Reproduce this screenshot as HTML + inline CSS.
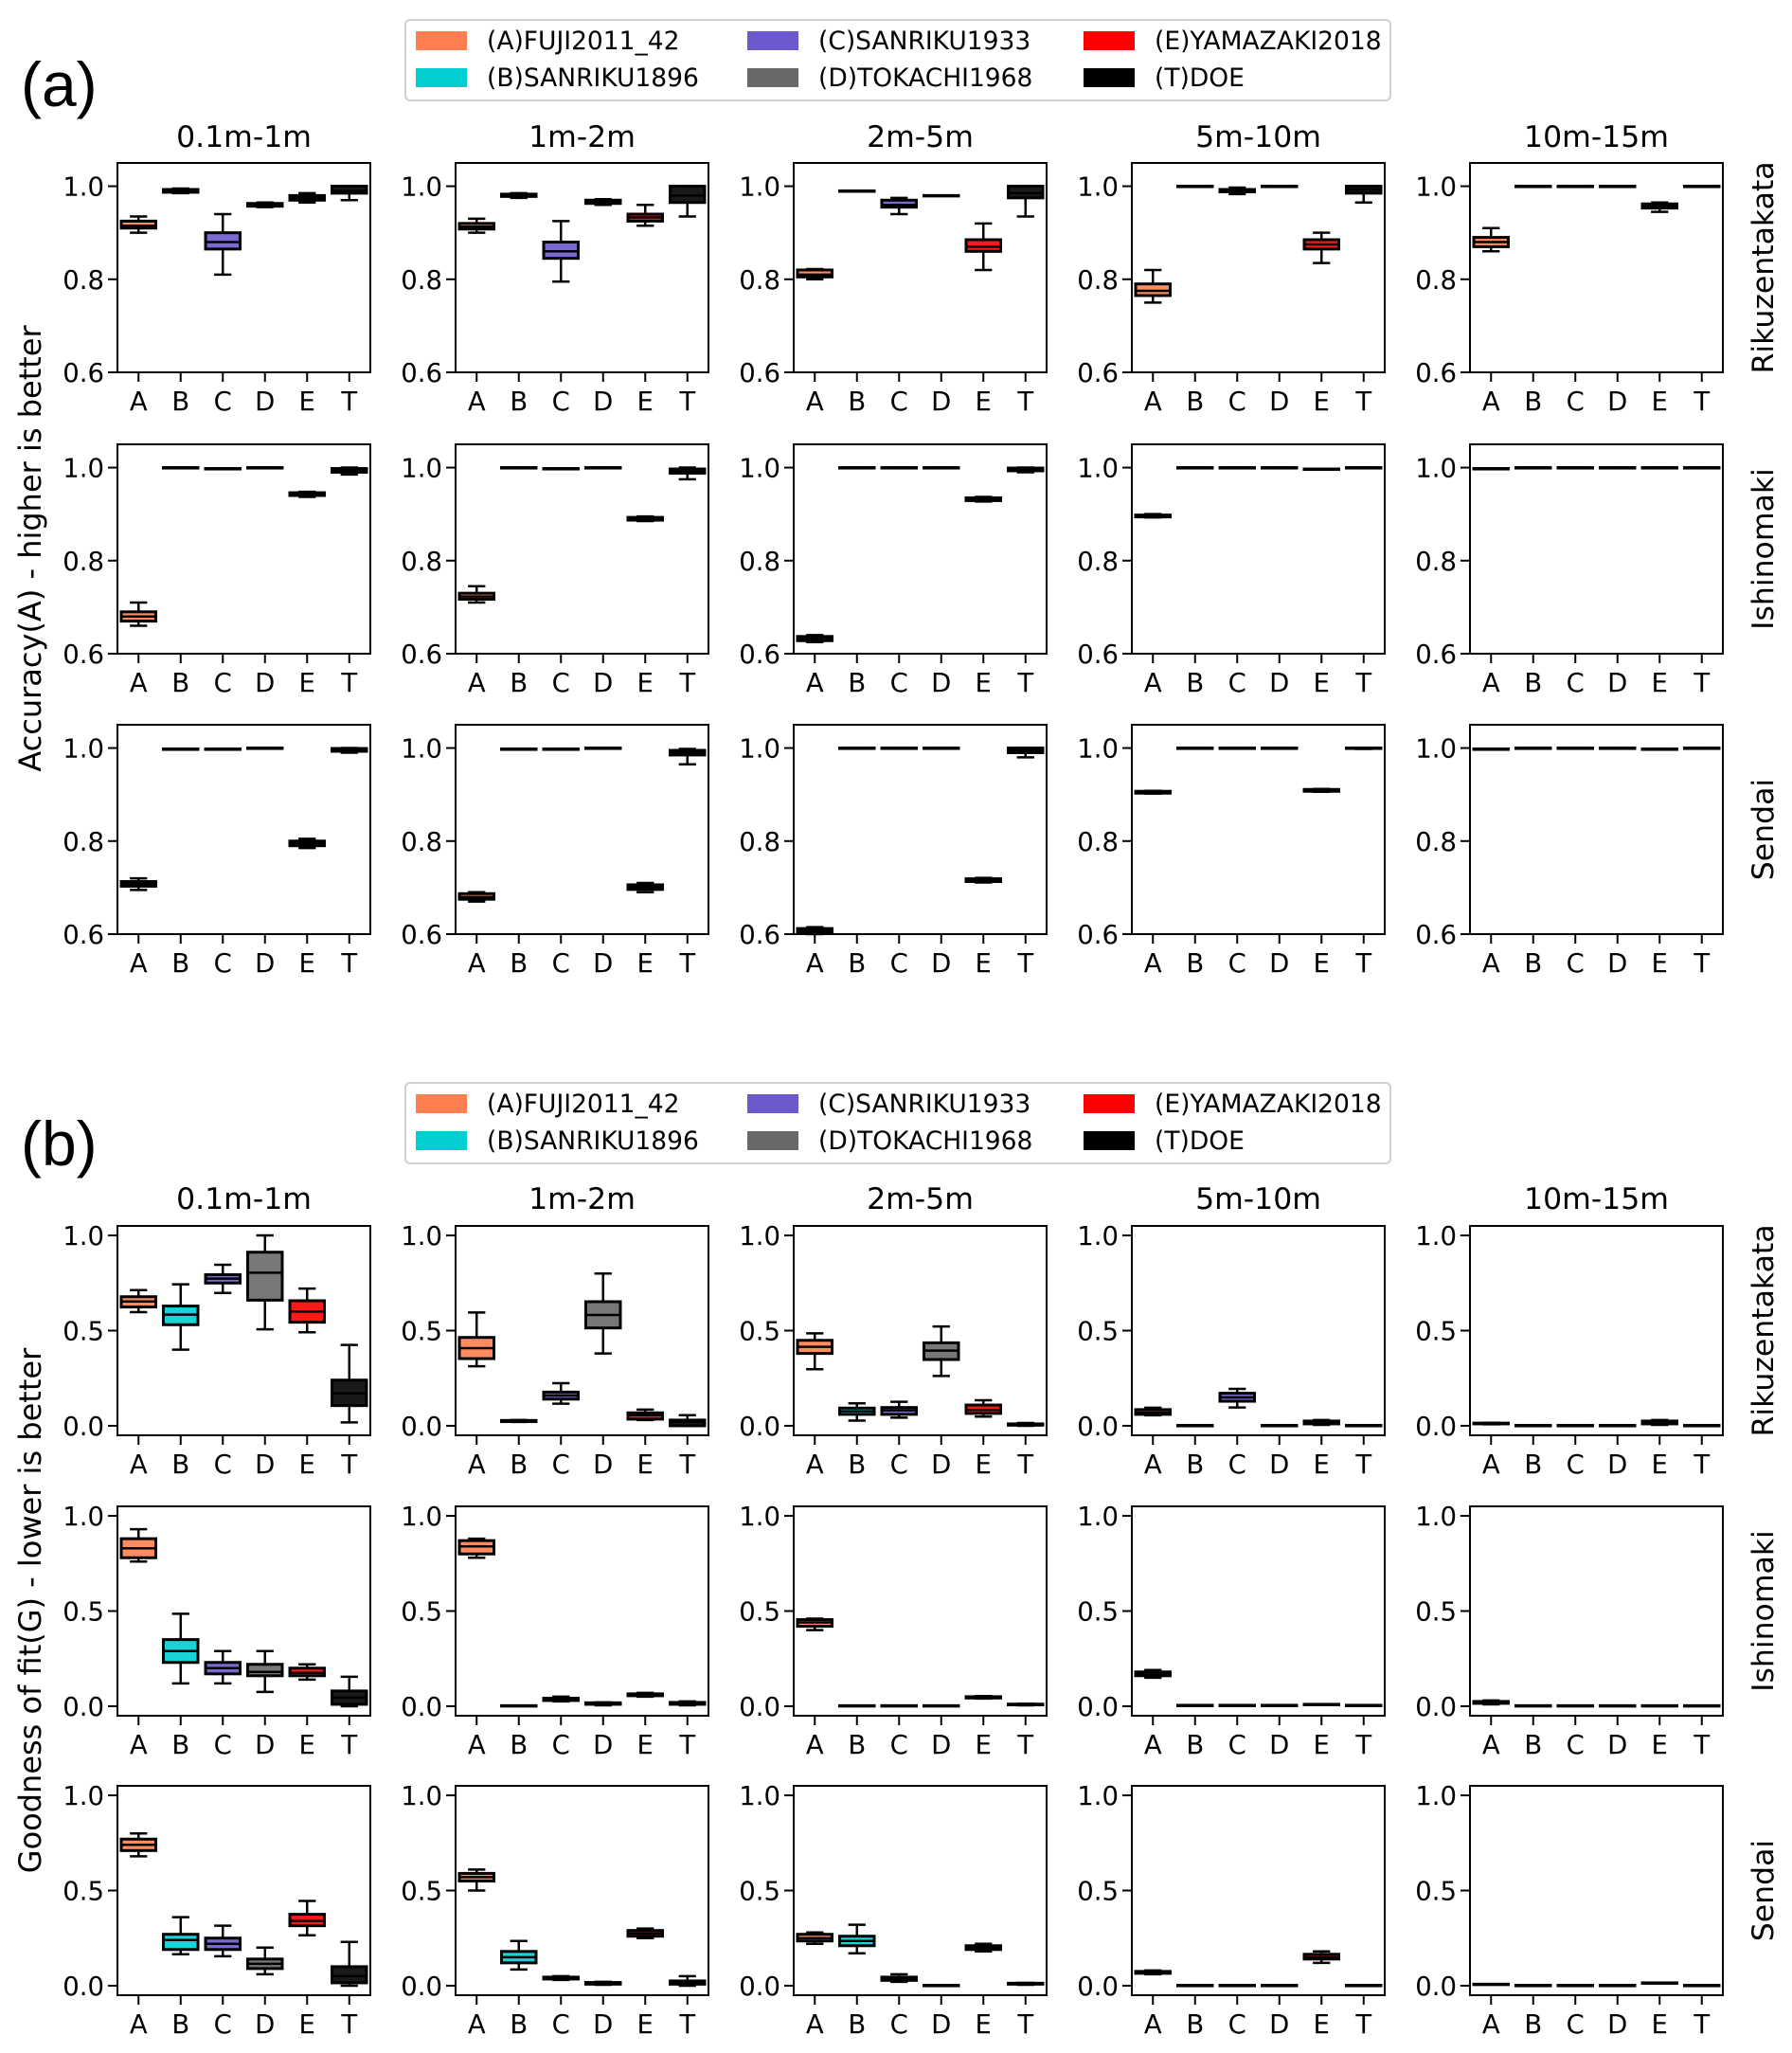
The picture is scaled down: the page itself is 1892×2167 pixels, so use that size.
<!DOCTYPE html>
<html><head><meta charset="utf-8"><style>
html,body{margin:0;padding:0;background:#fff}
svg text{font-family:"DejaVu Sans","Liberation Sans",sans-serif;fill:#000}
</style></head><body>
<svg id="fig" xmlns="http://www.w3.org/2000/svg" width="1892" height="2162" viewBox="0 0 1892 2162"></svg>
<script>
// ---- data: [whisker low, q1, median, q3, whisker high] per category ----
const categories = ["A","B","C","D","E","T"];
const seriesNames = ["(A)FUJI2011_42","(B)SANRIKU1896","(C)SANRIKU1933","(D)TOKACHI1968","(E)YAMAZAKI2018","(T)DOE"];
const depthBins = ["0.1m-1m","1m-2m","2m-5m","5m-10m","10m-15m"];
const cities = ["Rikuzentakata","Ishinomaki","Sendai"];
const accTicks = [0.6,0.8,1.0];
const accTickLabels = ["0.6","0.8","1.0"];
const gofTicks = [0.0,0.5,1.0];
const gofTickLabels = ["0.0","0.5","1.0"];

const accRikuzentakata = [
 [[0.90,0.91,0.915,0.925,0.935],[0.985,0.987,0.99,0.993,0.995],[0.81,0.865,0.88,0.90,0.94],[0.955,0.957,0.96,0.963,0.965],[0.965,0.97,0.975,0.98,0.985],[0.97,0.985,0.99,1.0,1.0]],
 [[0.90,0.908,0.913,0.92,0.93],[0.975,0.978,0.98,0.983,0.985],[0.795,0.845,0.86,0.88,0.925],[0.96,0.963,0.966,0.97,0.972],[0.915,0.925,0.933,0.94,0.96],[0.935,0.965,0.98,1.0,1.0]],
 [[0.80,0.805,0.81,0.82,0.822],[0.99,0.99,0.99,0.99,0.99],[0.94,0.955,0.96,0.97,0.975],[0.98,0.98,0.98,0.98,0.98],[0.82,0.86,0.87,0.885,0.92],[0.935,0.975,0.985,1.0,1.0]],
 [[0.75,0.765,0.775,0.79,0.82],[1,1,1,1,1],[0.983,0.988,0.99,0.993,0.997],[1,1,1,1,1],[0.835,0.865,0.875,0.885,0.9],[0.965,0.985,0.993,1.0,1.0]],
 [[0.86,0.87,0.88,0.89,0.91],[1,1,1,1,1],[1,1,1,1,1],[1,1,1,1,1],[0.945,0.953,0.958,0.962,0.965],[1,1,1,1,1]]
];
const accIshinomaki = [
 [[0.66,0.67,0.68,0.69,0.71],[1,1,1,1,1],[0.998,0.998,0.998,0.998,0.998],[1,1,1,1,1],[0.937,0.94,0.943,0.946,0.948],[0.985,0.99,0.995,0.998,1.0]],
 [[0.71,0.717,0.723,0.73,0.745],[1,1,1,1,1],[0.998,0.998,0.998,0.998,0.998],[1,1,1,1,1],[0.885,0.887,0.89,0.893,0.895],[0.975,0.988,0.993,0.997,1.0]],
 [[0.625,0.628,0.632,0.637,0.64],[1,1,1,1,1],[1,1,1,1,1],[1,1,1,1,1],[0.927,0.929,0.932,0.935,0.937],[0.99,0.993,0.996,0.999,1.0]],
 [[0.893,0.894,0.896,0.898,0.9],[1,1,1,1,1],[1,1,1,1,1],[1,1,1,1,1],[0.997,0.997,0.997,0.997,0.997],[1,1,1,1,1]],
 [[0.998,0.998,0.998,0.998,0.998],[1,1,1,1,1],[1,1,1,1,1],[1,1,1,1,1],[1,1,1,1,1],[1,1,1,1,1]]
];
const accSendai = [
 [[0.695,0.703,0.708,0.713,0.72],[0.998,0.998,0.998,0.998,0.998],[0.998,0.998,0.998,0.998,0.998],[1,1,1,1,1],[0.785,0.79,0.795,0.8,0.805],[0.99,0.993,0.996,0.999,1.0]],
 [[0.67,0.675,0.68,0.687,0.69],[0.998,0.998,0.998,0.998,0.998],[0.998,0.998,0.998,0.998,0.998],[1,1,1,1,1],[0.69,0.696,0.701,0.706,0.71],[0.965,0.985,0.99,0.995,0.998]],
 [[0.60,0.603,0.607,0.612,0.615],[1,1,1,1,1],[1,1,1,1,1],[1,1,1,1,1],[0.711,0.713,0.716,0.719,0.721],[0.98,0.99,0.995,1.0,1.0]],
 [[0.902,0.903,0.905,0.907,0.908],[1,1,1,1,1],[1,1,1,1,1],[1,1,1,1,1],[0.906,0.907,0.909,0.911,0.912],[0.998,0.999,1.0,1.0,1.0]],
 [[0.998,0.998,0.998,0.998,0.998],[1,1,1,1,1],[1,1,1,1,1],[1,1,1,1,1],[0.998,0.998,0.998,0.998,0.998],[1,1,1,1,1]]
];
const gofRikuzentakata = [
 [[0.597,0.624,0.653,0.678,0.713],[0.40,0.531,0.584,0.629,0.743],[0.698,0.75,0.773,0.794,0.846],[0.507,0.66,0.804,0.912,1.0],[0.491,0.544,0.60,0.657,0.721],[0.018,0.106,0.17,0.24,0.425]],
 [[0.313,0.353,0.408,0.464,0.595],[0.02,0.022,0.025,0.028,0.03],[0.116,0.14,0.159,0.177,0.224],[0.38,0.514,0.582,0.652,0.80],[0.03,0.035,0.056,0.068,0.085],[0.0,0.0,0.02,0.03,0.056]],
 [[0.297,0.38,0.415,0.449,0.486],[0.027,0.06,0.076,0.093,0.118],[0.043,0.06,0.081,0.096,0.126],[0.262,0.348,0.395,0.436,0.522],[0.048,0.065,0.083,0.109,0.134],[0.0,0.003,0.006,0.01,0.015]],
 [[0.055,0.06,0.07,0.085,0.095],[0.002,0.002,0.002,0.002,0.002],[0.096,0.129,0.149,0.171,0.194],[0.002,0.002,0.002,0.002,0.002],[0.005,0.01,0.018,0.025,0.03],[0.002,0.002,0.002,0.002,0.002]],
 [[0.008,0.01,0.012,0.014,0.016],[0.002,0.002,0.002,0.002,0.002],[0.002,0.002,0.002,0.002,0.002],[0.002,0.002,0.002,0.002,0.002],[0.005,0.01,0.018,0.025,0.03],[0.002,0.002,0.002,0.002,0.002]]
];
const gofIshinomaki = [
 [[0.76,0.78,0.83,0.88,0.93],[0.12,0.23,0.29,0.35,0.486],[0.12,0.17,0.2,0.23,0.29],[0.075,0.16,0.18,0.22,0.29],[0.14,0.16,0.175,0.2,0.22],[0.0,0.01,0.045,0.08,0.155]],
 [[0.78,0.8,0.84,0.87,0.88],[0.003,0.003,0.003,0.003,0.003],[0.025,0.03,0.035,0.042,0.05],[0.005,0.01,0.013,0.018,0.02],[0.05,0.055,0.06,0.065,0.07],[0.005,0.01,0.015,0.02,0.025]],
 [[0.40,0.42,0.44,0.455,0.46],[0.003,0.003,0.003,0.003,0.003],[0.003,0.003,0.003,0.003,0.003],[0.003,0.003,0.003,0.003,0.003],[0.04,0.043,0.047,0.05,0.053],[0.005,0.007,0.009,0.011,0.013]],
 [[0.15,0.16,0.17,0.18,0.19],[0.005,0.005,0.005,0.005,0.005],[0.005,0.005,0.005,0.005,0.005],[0.005,0.005,0.005,0.005,0.005],[0.01,0.01,0.01,0.01,0.01],[0.005,0.005,0.005,0.005,0.005]],
 [[0.01,0.015,0.02,0.025,0.03],[0.003,0.003,0.003,0.003,0.003],[0.003,0.003,0.003,0.003,0.003],[0.003,0.003,0.003,0.003,0.003],[0.003,0.003,0.003,0.003,0.003],[0.003,0.003,0.003,0.003,0.003]]
];
const gofSendai = [
 [[0.68,0.71,0.74,0.77,0.80],[0.165,0.19,0.24,0.27,0.36],[0.155,0.19,0.22,0.25,0.315],[0.06,0.09,0.115,0.14,0.20],[0.265,0.315,0.34,0.375,0.445],[0.0,0.015,0.05,0.10,0.23]],
 [[0.50,0.55,0.57,0.59,0.61],[0.085,0.12,0.15,0.18,0.235],[0.03,0.035,0.04,0.045,0.05],[0.005,0.008,0.012,0.017,0.02],[0.25,0.26,0.275,0.29,0.30],[0.0,0.008,0.015,0.025,0.05]],
 [[0.22,0.235,0.25,0.27,0.28],[0.17,0.21,0.235,0.26,0.32],[0.02,0.028,0.035,0.045,0.06],[0.002,0.002,0.002,0.002,0.002],[0.18,0.19,0.20,0.21,0.22],[0.005,0.008,0.01,0.013,0.015]],
 [[0.06,0.065,0.07,0.075,0.08],[0.002,0.002,0.002,0.002,0.002],[0.002,0.002,0.002,0.002,0.002],[0.002,0.002,0.002,0.002,0.002],[0.12,0.14,0.15,0.165,0.18],[0.002,0.002,0.002,0.002,0.002]],
 [[0.008,0.008,0.008,0.008,0.008],[0.002,0.002,0.002,0.002,0.002],[0.002,0.002,0.002,0.002,0.002],[0.002,0.002,0.002,0.002,0.002],[0.015,0.015,0.015,0.015,0.015],[0.002,0.002,0.002,0.002,0.002]]
];

const colors = ["#ff7f50","#00ced1","#6a5acd","#696969","#ff0000","#000000"];
const NS = "http://www.w3.org/2000/svg";
const svg = document.getElementById("fig");
function mk(tag, attrs, parent){ const e=document.createElementNS(NS,tag); for(const k in attrs) e.setAttribute(k,attrs[k]); (parent||svg).appendChild(e); return e; }
function txt(s, attrs, parent){ const e=mk("text",attrs,parent); e.textContent=s; return e; }

const colLeft = [124,481,838,1195,1552];
const axW = 267, axH = 221;

function drawPanel(g, x0, y0, data, ymin, ymax, ticks, tickLabels){
  const ys = v => y0 + axH - (v - ymin) / (ymax - ymin) * axH;
  const step = axW / 6;
  const xs = i => x0 + step * (i + 0.5);
  ticks.forEach((t,i)=>{
    const y = ys(t);
    const tk = mk("line",{x1:x0-10,x2:x0,y1:y,y2:y,stroke:"#000","stroke-width":2},g);
    
    
    const lb = txt(tickLabels[i],{x:x0-14,y:y+10,"font-size":27.5,"text-anchor":"end"},g);
    
    
  });
  categories.forEach((c,i)=>{
    const x = xs(i);
    const tk = mk("line",{x1:x,x2:x,y1:y0+axH,y2:y0+axH+10,stroke:"#000","stroke-width":2},g);
    
    
    const lb = txt(c,{x:x,y:y0+axH+40,"font-size":27.5,"text-anchor":"middle"},g);
    
    
  });
  const bw = step*0.82, cw = bw*0.5;
  data.forEach((d,i)=>{
    const x = xs(i);
    const bg = mk("g",{},g);
    
    
    const [lo,q1,md,q3,hi] = d.map(ys);
    mk("line",{x1:x,x2:x,y1:hi,y2:q3,stroke:"#000","stroke-width":2.5},bg);
    mk("line",{x1:x,x2:x,y1:q1,y2:lo,stroke:"#000","stroke-width":2.5},bg);
    mk("line",{x1:x-cw/2,x2:x+cw/2,y1:hi,y2:hi,stroke:"#000","stroke-width":2.5},bg);
    mk("line",{x1:x-cw/2,x2:x+cw/2,y1:lo,y2:lo,stroke:"#000","stroke-width":2.5},bg);
    mk("rect",{x:x-bw/2,y:q3,width:bw,height:Math.max(q1-q3,0.5),fill:colors[i],"fill-opacity":0.9,stroke:"#000","stroke-width":3},bg);
    mk("line",{x1:x-bw/2,x2:x+bw/2,y1:md,y2:md,stroke:"#000","stroke-width":2.5},bg);
  });
  const fr = mk("rect",{x:x0,y:y0,width:axW,height:axH,fill:"none",stroke:"#000","stroke-width":2},g);
  
  
}

function drawLegend(y){
  const lg = mk("g",{});
  
  
  mk("rect",{x:428,y:y,width:1040,height:85,rx:5,fill:"#fff",stroke:"#d0d0d0","stroke-width":2},lg);
  const px=[439,789,1144];
  seriesNames.forEach((s,i)=>{
    const col = Math.floor(i/2), row = i%2;
    const yy = y + 22 + row*39;
    const e = mk("g",{},lg);
    
    
    mk("rect",{x:px[col],y:yy-10,width:54,height:20,fill:colors[i]},e);
    txt(s,{x:px[col]+75,y:yy+9,"font-size":26.5},e);
  });
}

function drawSection(label, labelY, legendY, titleY, rowTops, sets, ymin, ymax, ticks, tickLabels, ylabel, ylabelY){
  drawLegend(legendY);
  const pl = txt(label,{x:22,y:labelY,"font-size":66,style:"font-family:'Liberation Sans',sans-serif"});
  
  
  depthBins.forEach((b,c)=>{
    const t = txt(b,{x:colLeft[c]+axW/2,y:titleY,"font-size":31.5,"text-anchor":"middle"});
    
    
  });
  rowTops.forEach((top,r)=>{
    sets[r].forEach((panelData,c)=>{
      const g = mk("g",{});
      
      
      drawPanel(g, colLeft[c], top, panelData, ymin, ymax, ticks, tickLabels);
    });
    const cy = top + axH/2;
    const rl = txt(cities[r],{x:1872,y:cy,"font-size":31.5,"text-anchor":"middle",transform:`rotate(-90 1872 ${cy})`});
    
    
  });
  const yl = txt(ylabel,{x:43,y:ylabelY,"font-size":32,"text-anchor":"middle",transform:`rotate(-90 43 ${ylabelY})`});
  
  
}

drawSection("(a)",112,21,155,[172,469,765],[accRikuzentakata,accIshinomaki,accSendai],0.6,1.05,accTicks,accTickLabels,"Accuracy(A) - higher is better",579);
drawSection("(b)",1230,1143,1276,[1294,1590,1885],[gofRikuzentakata,gofIshinomaki,gofSendai],-0.05,1.05,gofTicks,gofTickLabels,"Goodness of fit(G) - lower is better",1700);
</script>
</body></html>
